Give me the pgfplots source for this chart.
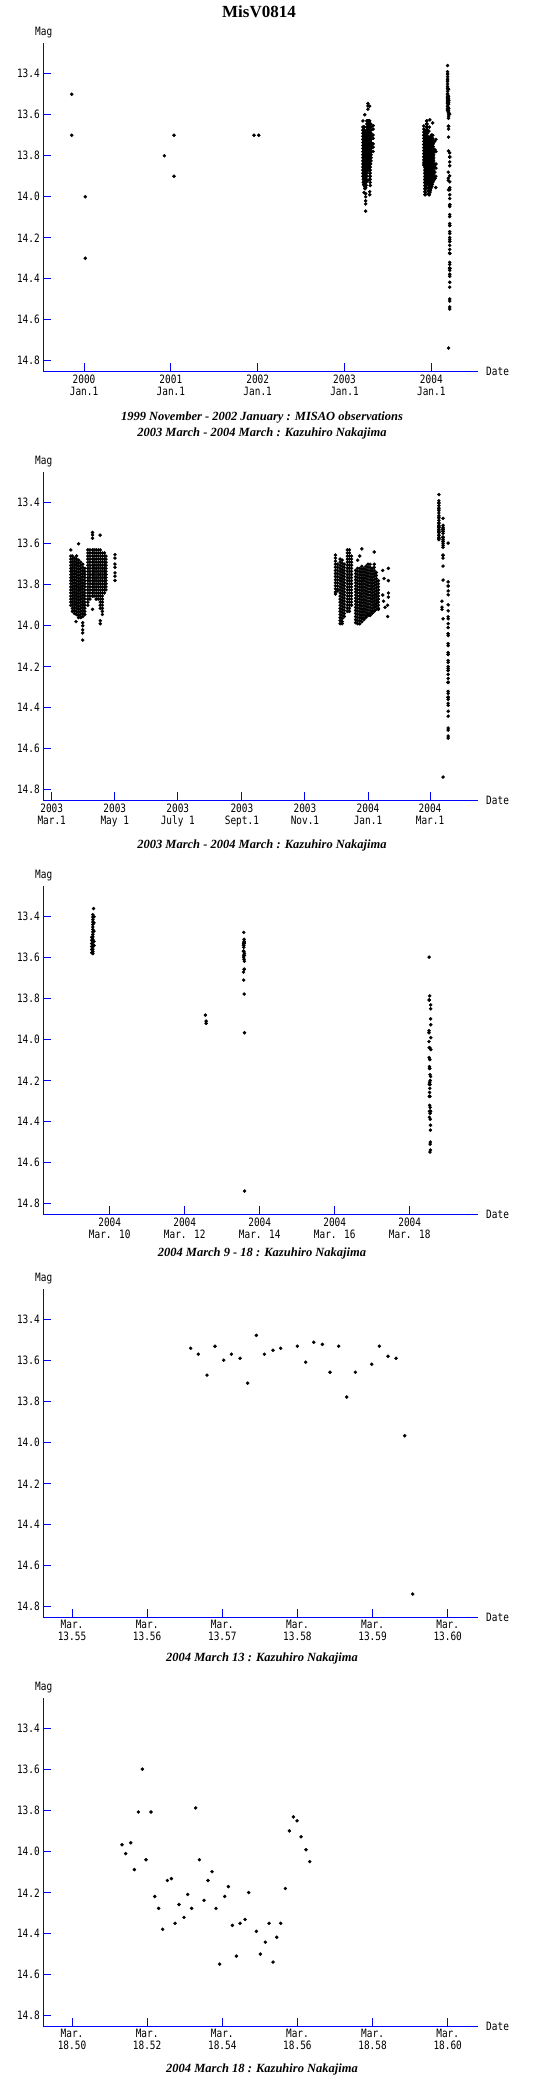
\documentclass[border=0pt]{standalone}
\usepackage{fontspec}
\setmainfont{Liberation Serif}
\newfontfamily\tickfont[FakeStretch=0.82]{DejaVu Sans Mono}
\usepackage{pgfplots}
\usepackage{pgfplotstable}
\pgfplotsset{compat=1.18}
\newcommand\tf{\tickfont\fontsize{11.5}{12}\selectfont}

% MISAO observations: x = years since 2000 Jan 1
\pgfplotstableread{
y m
-0.142 13.5
-0.142 13.7
0.015 14.0
0.015 14.3
0.925 13.8
1.036 13.7
1.036 13.9
1.958 13.7
2.012 13.7
}\tabA

% Nakajima 2003-2004: x = days since 2003 Mar 1.0
\pgfplotstableread[row sep=\\]{
d m\\
18.5 13.63\\18.5 13.66\\18.5 13.675\\18.5 13.69\\18.5 13.705\\18.5 13.72\\18.5 13.735\\18.5 13.75\\18.5 13.765\\18.5 13.78\\18.5 13.795\\18.5 13.81\\18.5 13.825\\18.5 13.84\\18.5 13.855\\18.5 13.87\\18.5 13.885\\18.5 13.90\\
20 13.66\\20 13.675\\20 13.69\\20 13.705\\20 13.72\\20 13.735\\20 13.75\\20 13.765\\20 13.78\\20 13.795\\20 13.81\\20 13.825\\20 13.84\\20 13.855\\20 13.87\\20 13.885\\20 13.90\\20 13.915\\20 13.93\\
22 13.67\\22 13.685\\22 13.70\\22 13.715\\22 13.73\\22 13.745\\22 13.76\\22 13.775\\22 13.79\\22 13.805\\22 13.82\\22 13.835\\22 13.85\\22 13.865\\22 13.88\\22 13.895\\22 13.91\\22 13.925\\22 13.94\\23.5 13.98\\
24 13.66\\24 13.675\\24 13.69\\24 13.705\\24 13.72\\24 13.735\\24 13.75\\24 13.765\\24 13.78\\24 13.795\\24 13.81\\24 13.825\\24 13.84\\24 13.855\\24 13.87\\24 13.885\\24 13.90\\24 13.915\\24 13.93\\24 13.945\\
26 13.60\\26 13.68\\26 13.695\\26 13.71\\26 13.725\\26 13.74\\26 13.755\\26 13.77\\26 13.785\\26 13.80\\26 13.815\\26 13.83\\26 13.845\\26 13.86\\26 13.875\\26 13.89\\26 13.905\\26 13.92\\26 13.935\\26 13.95\\26 13.96\\
28 13.69\\28 13.705\\28 13.72\\28 13.735\\28 13.75\\28 13.765\\28 13.78\\28 13.795\\28 13.81\\28 13.825\\28 13.84\\28 13.855\\28 13.87\\28 13.885\\28 13.90\\28 13.915\\28 13.93\\28 13.945\\28 13.96\\
30 13.70\\30 13.715\\30 13.73\\30 13.745\\30 13.76\\30 13.775\\30 13.79\\30 13.805\\30 13.82\\30 13.835\\30 13.85\\30 13.865\\30 13.88\\30 13.895\\30 13.91\\30 13.925\\30 13.94\\30 13.955\\30 13.985\\30 14.00\\30 14.02\\30 14.035\\30 14.07\\
32 13.72\\32 13.735\\32 13.75\\32 13.765\\32 13.78\\32 13.795\\32 13.81\\32 13.825\\32 13.84\\32 13.855\\32 13.87\\32 13.885\\32 13.90\\32 13.915\\32 13.93\\32 13.945\\
35 13.63\\35 13.645\\35 13.66\\35 13.675\\35 13.69\\35 13.705\\35 13.72\\35 13.735\\35 13.75\\35 13.765\\35 13.78\\35 13.795\\35 13.81\\35 13.825\\35 13.84\\35 13.855\\35 13.87\\35 13.885\\35 13.90\\
37 13.63\\37 13.645\\37 13.66\\37 13.675\\37 13.69\\37 13.705\\37 13.72\\37 13.735\\37 13.75\\37 13.765\\37 13.78\\37 13.795\\37 13.81\\37 13.825\\37 13.84\\37 13.855\\37 13.87\\
39.5 13.545\\39.5 13.557\\39.5 13.573\\39.5 13.63\\39.5 13.645\\39.5 13.66\\39.5 13.675\\39.5 13.69\\39.5 13.705\\39.5 13.72\\39.5 13.735\\39.5 13.75\\39.5 13.765\\39.5 13.78\\39.5 13.795\\39.5 13.81\\39.5 13.825\\39.5 13.84\\39.5 13.855\\39.5 13.92\\
41 13.63\\41 13.645\\41 13.66\\41 13.675\\41 13.69\\41 13.705\\41 13.72\\41 13.735\\41 13.75\\41 13.765\\41 13.78\\41 13.795\\41 13.81\\41 13.825\\41 13.84\\41 13.855\\
43 13.63\\43 13.645\\43 13.66\\43 13.675\\43 13.69\\43 13.705\\43 13.72\\43 13.735\\43 13.75\\43 13.765\\43 13.78\\43 13.795\\43 13.81\\43 13.825\\43 13.84\\43 13.855\\43 13.87\\
45 13.63\\45 13.645\\45 13.66\\45 13.675\\45 13.69\\45 13.705\\45 13.72\\45 13.735\\45 13.75\\45 13.765\\45 13.78\\45 13.795\\45 13.81\\45 13.825\\45 13.84\\45 13.855\\45 13.87\\46.8 13.558\\
47 13.63\\47 13.645\\47 13.66\\47 13.675\\47 13.69\\47 13.705\\47 13.72\\47 13.735\\47 13.75\\47 13.765\\47 13.78\\47 13.795\\47 13.81\\47 13.825\\47 13.84\\47 13.855\\47 13.87\\47 13.885\\47 13.90\\47 13.915\\47 13.975\\47 13.99\\
49 13.645\\49 13.66\\49 13.675\\49 13.69\\49 13.705\\49 13.72\\49 13.735\\49 13.75\\49 13.765\\49 13.78\\49 13.795\\49 13.81\\49 13.825\\49 13.84\\49 13.855\\49 13.87\\49 13.885\\49 13.90\\49 13.915\\49 13.93\\49 13.945\\
51 13.645\\51 13.66\\51 13.675\\51 13.69\\51 13.705\\51 13.72\\51 13.735\\51 13.75\\51 13.765\\51 13.78\\51 13.795\\51 13.81\\51 13.825\\51 13.84\\
52.5 13.66\\52.5 13.675\\52.5 13.69\\52.5 13.705\\52.5 13.72\\52.5 13.735\\52.5 13.75\\52.5 13.765\\52.5 13.78\\52.5 13.795\\52.5 13.81\\52.5 13.825\\
61.2 13.653\\61.2 13.67\\61.2 13.699\\61.2 13.715\\61.2 13.742\\61.2 13.758\\61.2 13.779\\
274.5 13.655\\274.5 13.67\\274.5 13.685\\274.5 13.70\\274.5 13.715\\274.5 13.73\\274.5 13.745\\274.5 13.76\\274.5 13.775\\274.5 13.79\\274.5 13.805\\274.5 13.82\\274.5 13.835\\274.5 13.845\\
276.5 13.70\\276.5 13.715\\276.5 13.73\\276.5 13.745\\276.5 13.76\\276.5 13.775\\276.5 13.79\\276.5 13.805\\276.5 13.82\\276.5 13.83\\
279 13.675\\279 13.69\\279 13.705\\279 13.72\\279 13.735\\279 13.75\\279 13.765\\279 13.78\\279 13.795\\279 13.81\\279 13.825\\279 13.84\\279 13.855\\279 13.87\\279 13.885\\279 13.90\\279 13.915\\279 13.93\\279 13.945\\279 13.96\\279 13.975\\279 13.99\\
281 13.68\\281 13.695\\281 13.71\\281 13.725\\281 13.74\\281 13.755\\281 13.77\\281 13.785\\281 13.80\\281 13.815\\281 13.83\\281 13.845\\281 13.86\\281 13.875\\281 13.89\\281 13.905\\281 13.92\\281 13.935\\281 13.95\\281 13.965\\281 13.98\\281 13.99\\
283 13.70\\283 13.715\\283 13.73\\283 13.745\\283 13.76\\283 13.775\\283 13.79\\283 13.805\\283 13.82\\283 13.835\\283 13.85\\283 13.865\\283 13.88\\283 13.895\\283 13.91\\283 13.925\\283 13.94\\283 13.955\\
286 13.63\\286 13.645\\286 13.66\\286 13.675\\286 13.69\\286 13.705\\286 13.72\\286 13.735\\286 13.75\\286 13.765\\286 13.78\\286 13.795\\286 13.81\\286 13.825\\286 13.84\\286 13.855\\286 13.87\\286 13.885\\286 13.90\\286 13.915\\286 13.93\\
288 13.63\\288 13.645\\288 13.66\\288 13.675\\288 13.69\\288 13.705\\288 13.72\\288 13.735\\288 13.75\\288 13.765\\288 13.78\\288 13.795\\288 13.81\\288 13.825\\288 13.84\\288 13.855\\288 13.87\\288 13.885\\288 13.90\\288 13.915\\288 13.93\\
290 13.66\\290 13.675\\290 13.69\\290 13.705\\290 13.72\\290 13.735\\290 13.75\\290 13.765\\290 13.78\\290 13.795\\290 13.81\\290 13.825\\290 13.84\\290 13.855\\290 13.87\\290 13.885\\290 13.90\\
294 13.73\\294 13.745\\294 13.76\\294 13.775\\294 13.79\\294 13.805\\294 13.82\\294 13.835\\294 13.85\\294 13.865\\294 13.88\\294 13.895\\294 13.91\\294 13.925\\294 13.94\\294 13.955\\294 13.97\\294 13.985\\
296 13.68\\296 13.72\\296 13.735\\296 13.75\\296 13.765\\296 13.78\\296 13.795\\296 13.81\\296 13.825\\296 13.84\\296 13.855\\296 13.87\\296 13.885\\296 13.90\\296 13.915\\296 13.93\\296 13.945\\296 13.96\\296 13.975\\296 13.99\\
298 13.66\\298 13.72\\298 13.735\\298 13.75\\298 13.765\\298 13.78\\298 13.795\\298 13.81\\298 13.825\\298 13.84\\298 13.855\\298 13.87\\298 13.885\\298 13.90\\298 13.915\\298 13.93\\298 13.945\\298 13.96\\298 13.975\\298 13.99\\
300 13.625\\300 13.71\\300 13.725\\300 13.74\\300 13.755\\300 13.77\\300 13.785\\300 13.80\\300 13.815\\300 13.83\\300 13.845\\300 13.86\\300 13.875\\300 13.89\\300 13.905\\300 13.92\\300 13.935\\300 13.95\\300 13.965\\300 13.98\\
302 13.72\\302 13.735\\302 13.75\\302 13.765\\302 13.78\\302 13.795\\302 13.81\\302 13.825\\302 13.84\\302 13.855\\302 13.87\\302 13.885\\302 13.90\\302 13.915\\302 13.93\\302 13.945\\302 13.96\\302 13.97\\
304 13.71\\304 13.725\\304 13.74\\304 13.755\\304 13.77\\304 13.785\\304 13.80\\304 13.815\\304 13.83\\304 13.845\\304 13.86\\304 13.875\\304 13.89\\304 13.905\\304 13.92\\304 13.935\\304 13.95\\304 13.96\\
306 13.70\\306 13.715\\306 13.73\\306 13.745\\306 13.76\\306 13.775\\306 13.79\\306 13.805\\306 13.82\\306 13.835\\306 13.85\\306 13.865\\306 13.88\\306 13.895\\306 13.91\\306 13.925\\306 13.94\\306 13.95\\
308 13.70\\308 13.715\\308 13.73\\308 13.745\\308 13.76\\308 13.775\\308 13.79\\308 13.805\\308 13.82\\308 13.835\\308 13.85\\308 13.865\\308 13.88\\308 13.895\\308 13.91\\308 13.925\\308 13.94\\308 13.95\\
310 13.72\\310 13.735\\310 13.75\\310 13.765\\310 13.78\\310 13.795\\310 13.81\\310 13.825\\310 13.84\\310 13.855\\310 13.87\\310 13.885\\310 13.90\\310 13.915\\310 13.93\\310 13.94\\
312 13.64\\312 13.70\\312 13.715\\312 13.73\\312 13.745\\312 13.76\\312 13.775\\312 13.79\\312 13.805\\312 13.82\\312 13.835\\312 13.85\\312 13.865\\312 13.88\\312 13.895\\312 13.91\\312 13.925\\312 13.93\\
314 13.74\\314 13.755\\314 13.77\\314 13.785\\314 13.80\\314 13.815\\314 13.83\\314 13.845\\314 13.86\\314 13.875\\314 13.89\\314 13.905\\314 13.92\\
316 13.78\\316 13.795\\316 13.81\\316 13.825\\316 13.84\\316 13.855\\316 13.87\\316 13.885\\316 13.90\\316 13.915\\316 13.92\\
320.2 13.73\\321.5 13.77\\320.2 13.85\\321 13.88\\322.5 13.91\\325.7 13.72\\325.7 13.78\\325.7 13.84\\325.7 13.86\\325 13.90\\325 13.955\\
}\tabB

% Nakajima 2004 March 9-12: x = day of March
\pgfplotstableread[row sep=\\]{
D m\\
9.57 13.36\\9.55 13.39\\9.55 13.402\\9.55 13.414\\9.55 13.426\\9.55 13.438\\9.55 13.45\\9.55 13.462\\9.55 13.474\\9.55 13.486\\9.55 13.498\\9.55 13.51\\9.55 13.522\\9.55 13.534\\9.55 13.546\\9.55 13.558\\9.55 13.57\\9.55 13.58\\
9.52 13.50\\9.52 13.515\\9.52 13.53\\9.52 13.545\\9.52 13.56\\9.52 13.575\\
9.58 13.40\\9.58 13.43\\9.58 13.47\\9.58 13.52\\9.58 13.54\\
12.551 13.88\\12.57 13.909\\12.57 13.92\\
}\tabC

% 2004 March 13: x = (day of March - 13.5) * 1000
\pgfplotstableread{
u m
65.79 13.539
66.81 13.568
67.97 13.670
69.03 13.529
70.19 13.597
71.21 13.568
72.36 13.588
73.38 13.709
74.53 13.476
75.60 13.568
76.75 13.549
77.77 13.539
79.99 13.529
81.10 13.607
82.17 13.510
83.32 13.520
84.34 13.656
85.49 13.529
86.56 13.777
87.71 13.656
89.88 13.617
90.90 13.529
92.06 13.578
93.12 13.588
94.28 13.966
95.34 14.738
}\tabD

% 2004 March 18: x = (day of March - 18.5) * 1000
\pgfplotstableread{
u m
13.31 13.966
14.29 14.009
15.62 13.956
16.59 14.087
17.66 13.806
18.72 13.597
19.70 14.039
21.03 13.806
22.01 14.218
23.07 14.276
24.13 14.378
25.38 14.140
26.44 14.131
27.42 14.349
28.48 14.257
29.81 14.320
30.79 14.208
31.85 14.276
32.92 13.786
33.90 14.039
35.14 14.237
36.20 14.140
37.27 14.097
38.33 14.276
39.31 14.548
40.64 14.218
41.61 14.170
42.68 14.359
43.74 14.509
44.72 14.349
46.05 14.330
47.03 14.199
49.07 14.388
50.13 14.499
51.46 14.441
52.44 14.349
53.50 14.538
54.48 14.417
55.55 14.349
56.79 14.179
57.85 13.898
58.92 13.830
59.89 13.849
60.96 13.927
62.29 13.990
63.27 14.048
}\tabE

\pgfplotsset{
  mstyle/.style={
    scale only axis, width=435pt, height=328pt, anchor=south west,
    axis x line*=bottom, axis y line*=left,
    axis line style={blue, line width=1pt},
    y dir=reverse, ymin=13.25, ymax=14.85,
    ytick={13.4,13.6,13.8,14.0,14.2,14.4,14.6,14.8},
    yticklabels={13.4,13.6,13.8,14.0,14.2,14.4,14.6,14.8},
    tick align=inside, major tick length=8pt,
    major tick style={blue, line width=1pt},
    tick label style={font=\tf, text=black},
    xticklabel style={align=center},
  },
  dots/.style={only marks, mark=*, mark size=1.55pt, black, mark options={fill=black}},
}

\begin{document}
\begin{tikzpicture}[x=1pt,y=1pt]
\useasboundingbox (0pt,0pt) rectangle (540pt,-2090pt);
\node[font=\bfseries\fontsize{17}{20}\selectfont] at (259pt,-11.7pt) {MisV0814};

% Panel 1
\begin{axis}[mstyle, name=a1, at={(43.3pt,-371pt)},
  xmin=-0.469, xmax=4.541, xtick={0,1,2,3,4},
  xticklabels={{2000\\Jan.1},{2001\\Jan.1},{2002\\Jan.1},{2003\\Jan.1},{2004\\Jan.1}}]
\addplot[dots] table[x=y, y=m]{\tabA};
\addplot[dots] table[x expr=3.1616+\thisrow{d}/365.25, y=m]{\tabB};
\addplot[dots] table[x expr=3.1616+(\thisrow{D}+365)/365.25, y=m]{\tabC};
\addplot[dots] table[x expr=3.1616+(378.5+\thisrow{u}/1000)/365.25, y=m]{\tabD};
\addplot[dots] table[x expr=3.1616+(383.5+\thisrow{u}/1000)/365.25, y=m]{\tabE};
\end{axis}

% Panel 2
\begin{axis}[mstyle, name=a2, at={(43.3pt,-800pt)},
  xmin=-8.13, xmax=412.7, xtick={0,61,122,184,245,306,366},
  xticklabels={{2003\\Mar.1},{2003\\May 1},{2003\\July 1},{2003\\Sept.1},{2003\\Nov.1},{2004\\Jan.1},{2004\\Mar.1}}]
\addplot[dots] table[x=d, y=m]{\tabB};
\addplot[dots] table[x expr=\thisrow{D}+365, y=m]{\tabC};
\addplot[dots] table[x expr=378.5+\thisrow{u}/1000, y=m]{\tabD};
\addplot[dots] table[x expr=383.5+\thisrow{u}/1000, y=m]{\tabE};
\end{axis}

% Panel 3
\begin{axis}[mstyle, name=a3, at={(43.3pt,-1214pt)},
  xmin=8.229, xmax=19.829, xtick={10,12,14,16,18},
  xticklabels={{2004\\Mar. 10},{2004\\Mar. 12},{2004\\Mar. 14},{2004\\Mar. 16},{2004\\Mar. 18}}]
\addplot[dots] table[x=D, y=m]{\tabC};
\addplot[dots] table[x expr=13.5+\thisrow{u}/1000, y=m]{\tabD};
\addplot[dots] table[x expr=18.5+\thisrow{u}/1000, y=m]{\tabE};
\end{axis}

% Panel 4
\begin{axis}[mstyle, name=a4, at={(43.3pt,-1617pt)},
  xmin=46.18, xmax=104.07, xtick={50,60,70,80,90,100},
  xticklabels={{Mar.\\13.55},{Mar.\\13.56},{Mar.\\13.57},{Mar.\\13.58},{Mar.\\13.59},{Mar.\\13.60}}]
\addplot[dots] table[x=u, y=m]{\tabD};
\end{axis}

% Panel 5
\begin{axis}[mstyle, name=a5, at={(43.3pt,-2026pt)},
  xmin=-7.64, xmax=108.14, xtick={0,20,40,60,80,100},
  xticklabels={{Mar.\\18.50},{Mar.\\18.52},{Mar.\\18.54},{Mar.\\18.56},{Mar.\\18.58},{Mar.\\18.60}}]
\addplot[dots] table[x=u, y=m]{\tabE};
\end{axis}

\foreach \a in {a1,a2,a3,a4,a5}{
  \node[font=\tf] at ([xshift=0.4pt,yshift=10pt]\a.north west) {Mag};
  \node[font=\tf, anchor=west] at ([xshift=4.4pt]\a.south east) {Date};
}

\begin{scope}[every node/.style={font=\bfseries\itshape\fontsize{12.5}{15.6}\selectfont, align=center}]
\node at (262pt,-425.5pt) {1999 November - 2002 January : MISAO observations\\2003 March - 2004 March : Kazuhiro Nakajima};
\node at (262pt,-845pt) {2003 March - 2004 March : Kazuhiro Nakajima};
\node at (262pt,-1253.3pt) {2004 March 9 - 18 : Kazuhiro Nakajima};
\node at (262pt,-1658.3pt) {2004 March 13 : Kazuhiro Nakajima};
\node at (262pt,-2069.3pt) {2004 March 18 : Kazuhiro Nakajima};
\end{scope}
\end{tikzpicture}
\end{document}
